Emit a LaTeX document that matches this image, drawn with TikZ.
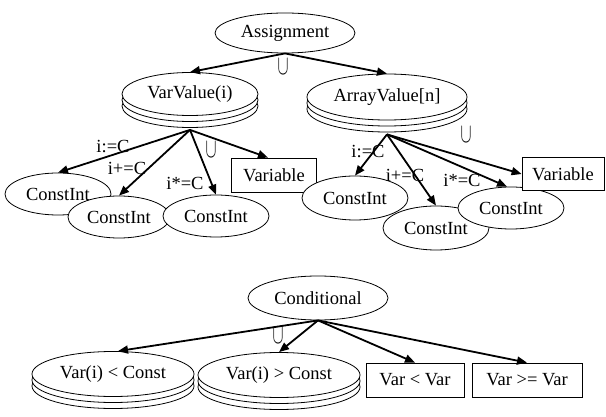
\documentclass[tikz,border=0pt]{standalone}
\usepackage{graphicx}
\usepackage{fontspec}
\setmainfont{Liberation Serif}
\usetikzlibrary{shapes.geometric,arrows.meta,calc}
\newcommand{\stackednode}[6]{% name, x, y, width, height, text
  \node[ell,minimum width=#4,minimum height=#5] at (#2,#3+12) {};
  \node[ell,minimum width=#4,minimum height=#5] at (#2,#3+6) {};
  \node[ell,minimum width=#4,minimum height=#5] (#1) at (#2,#3) {#6};
}
\newcommand{\bigcupsym}{\scalebox{0.95}[1.6]{$\cup$}}
\begin{document}
\begin{tikzpicture}[x=1pt,y=-1pt,
  every node/.style={font=\fontsize{18.5}{22}\selectfont},
  ell/.style={ellipse,draw,fill=white,inner sep=0pt,line width=0.8pt},
  rbox/.style={rectangle,draw,fill=white,inner sep=0pt,line width=0.8pt,minimum height=34pt},
  conn/.style={line width=1.8pt,-{Triangle[length=10pt,width=8pt]}},
  lbl/.style={inner sep=0pt},
  cupsym/.style={inner sep=0pt},
]
\fill[white] (0,0) rectangle (606,417);
\useasboundingbox (0,0) rectangle (606,417);

% ---- Assignment part
\node[ell,minimum width=140pt,minimum height=40pt] (asg) at (285,33) {Assignment};
\stackednode{vv}{190}{94}{136pt}{43pt}{VarValue(i)}
\stackednode{av}{387}{97}{160pt}{46pt}{ArrayValue[n]}
\coordinate (vvb) at ($(vv.south)+(0,14)$);
\coordinate (avb) at ($(av.south)+(0,14)$);

\node[ell,minimum width=106pt,minimum height=42pt] (ci1) at (58,194) {ConstInt};
\node[ell,minimum width=102pt,minimum height=42pt] (ci2) at (119,217) {ConstInt};
\node[ell,minimum width=106pt,minimum height=42pt] (ci3) at (216,216) {ConstInt};
\node[rbox,minimum width=85pt] (vvar) at (274,175) {Variable};

\node[ell,minimum width=106pt,minimum height=44pt] (ca) at (355,198) {ConstInt};
\node[ell,minimum width=106pt,minimum height=44pt] (cb) at (436,228) {ConstInt};
\node[ell,minimum width=106pt,minimum height=42pt] (cc) at (511,208) {ConstInt};
\node[rbox,minimum width=82pt,minimum height=33pt] (avar) at (563,174) {Variable};

\draw[conn] (asg.south) -- (vv.north);
\draw[conn] (asg.south) -- (av.north);
\node[cupsym] (u1) at (283,67) {\bigcupsym};

\draw[conn] (vvb) -- (ci1.north);
\draw[conn] (vvb) -- (ci2.north);
\draw[conn] (vvb) -- (ci3.north);
\draw[conn] (vvb) -- ([xshift=-6pt]vvar.north);
\node[lbl] (l1) at (113,147) {i:=C};
\node[lbl] (l2) at (127,168) {i+=C};
\node[lbl] (l3) at (185,183) {i*=C};
\node[cupsym] (u2) at (211,150) {\bigcupsym};

\draw[conn] (avb) -- (ca.north);
\draw[conn] (avb) -- (cb.north);
\draw[conn] (avb) -- ([xshift=-4pt]cc.north);
\draw[conn] (avb) -- (avar.west);
\node[lbl] (l4) at (368,152) {i:=C};
\node[lbl] (l5) at (405,175) {i+=C};
\node[lbl] (l6) at (462,180) {i*=C};
\node[cupsym] (u3) at (466,135) {\bigcupsym};

% ---- Conditional part
\node[ell,minimum width=140pt,minimum height=44pt] (cond) at (318,298) {Conditional};
\stackednode{vlc}{113}{374}{162pt}{45pt}{Var(i) < Const}
\stackednode{vgc}{279}{375}{162pt}{45pt}{Var(i) > Const}
\node[rbox,minimum width=98pt] (vlv) at (415,380) {Var < Var};
\node[rbox,minimum width=110pt] (vgv) at (527,380) {Var >= Var};

\draw[conn] (cond.south) -- ([xshift=5pt]vlc.north);
\draw[conn] (cond.south) -- (vgc.north);
\draw[conn] (cond.south) -- (vlv.north);
\draw[conn] (cond.south) -- (vgv.north);
\node[cupsym] (u4) at (278,336) {\bigcupsym};
\end{tikzpicture}
\end{document}
